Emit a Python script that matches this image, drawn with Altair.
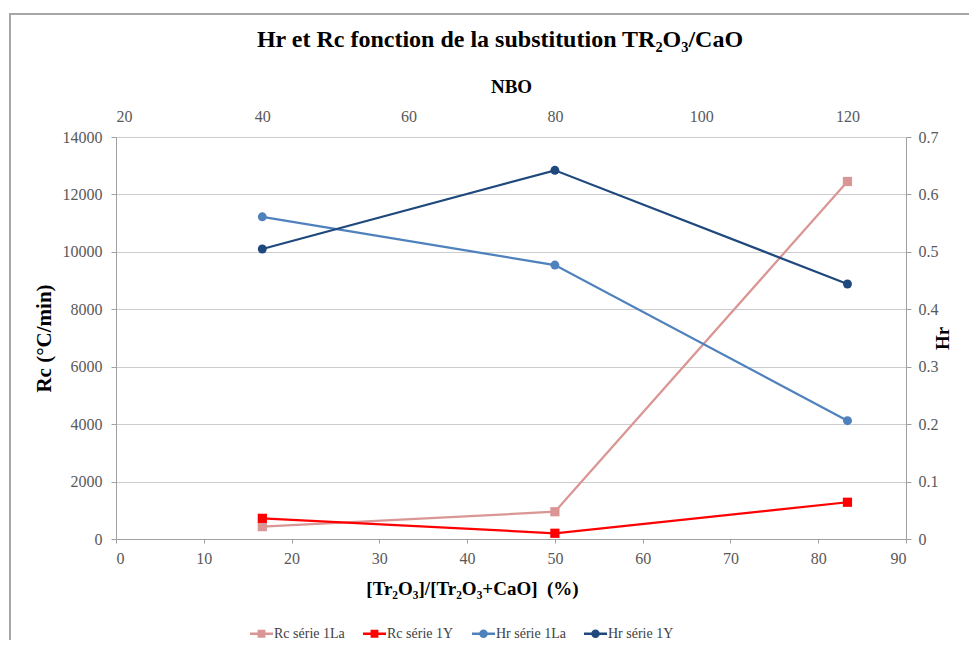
import altair as alt
import pandas as pd

# ---- data ----
series_names = ["Rc série 1La", "Rc série 1Y", "Hr série 1La", "Hr série 1Y"]
series_colors = ["#D99694", "#FF0000", "#4F81BD", "#1F497D"]

pct = [16.67, 50.0, 83.33]          # [Tr2O3]/[Tr2O3+CaO] (%)
nbo = [40, 80, 120]                 # NBO (top axis)
rc_la = [430, 950, 12450]
rc_y = [720, 200, 1280]
hr_la = [0.561, 0.477, 0.206]
hr_y = [0.505, 0.642, 0.444]

pct_ticks = [0, 10, 20, 30, 40, 50, 60, 70, 80, 90]
nbo_ticks = [20, 40, 60, 80, 100, 120]
rc_ticks = [0, 2000, 4000, 6000, 8000, 10000, 12000, 14000]
hr_ticks = [0, 0.1, 0.2, 0.3, 0.4, 0.5, 0.6, 0.7]
nbo_domain = [20, 128]

rc_df = pd.DataFrame({
    "pct": pct + pct,
    "Rc": rc_la + rc_y,
    "series": [series_names[0]] * 3 + [series_names[1]] * 3,
})
hr_df = pd.DataFrame({
    "NBO": nbo + nbo,
    "Hr": hr_la + hr_y,
    "series": [series_names[2]] * 3 + [series_names[3]] * 3,
})
legend_df = pd.DataFrame({"series": series_names})

FONT = "Liberation Serif"
LABEL_COLOR = "#595959"

legend = alt.Legend(
    orient="none", direction="horizontal", legendX=134, legendY=485,
    symbolSize=529, symbolStrokeWidth=0, symbolOpacity=1, labelFont=FONT,
    labelFontSize=14, labelColor="#404040", labelOffset=1, columnPadding=18,
    padding=0,
)
color_enc = alt.Color("series:N", title=None,
                      scale=alt.Scale(domain=series_names, range=series_colors),
                      legend=legend)

sq_path = "M-1,-0.11H1V0.11H-1Z M-0.34,-0.34H0.34V0.34H-0.34Z"
circ_path = ("M-1,-0.11H1V0.11H-1Z M0.37,0A0.37,0.37 0 1,1 -0.37,0"
             "A0.37,0.37 0 1,1 0.37,0Z")

axis_common = dict(labelFont=FONT, labelFontSize=16, labelColor=LABEL_COLOR,
                   titleFont=FONT, titleFontWeight="bold",
                   titleColor="#000000", domainColor="#A0A0A0",
                   tickColor="#A0A0A0")

x_pct = alt.X("pct:Q", scale=alt.Scale(domain=[0, 90], nice=False),
              axis=alt.Axis(values=pct_ticks, grid=False, tickSize=4,
                            labelPadding=7, titlePadding=13, titleFontSize=19,
                            titleX=356, titleAlign="center",
                            title="[Tr₂O₃]/[Tr₂O₃+CaO] \u00a0(%)", **axis_common))
y_rc = alt.Y("Rc:Q", scale=alt.Scale(domain=[0, 14000], nice=False),
             axis=alt.Axis(values=rc_ticks, format="d", grid=True,
                           gridColor="#CDCDCD", tickSize=5, labelPadding=9,
                           titlePadding=8, titleFontSize=21,
                           title="Rc (°C/min)", **axis_common))

rc_lines = alt.Chart(rc_df).mark_line(strokeWidth=2.25).encode(
    x=x_pct, y=y_rc, color=color_enc, detail="series:N")
rc_points = alt.Chart(rc_df).mark_point(shape="square", filled=True, size=85,
                                        opacity=1).encode(
    x=x_pct, y=y_rc, color=color_enc)

frame = alt.Chart(pd.DataFrame({"a": [0]})).mark_rect(
    fillOpacity=0, stroke="#A6A6A6", strokeWidth=2).encode(
    x=alt.value(-106), x2=alt.value(900), y=alt.value(-123), y2=alt.value(600))

# invisible layer that only feeds the legend (line + marker symbols)
legend_layer = alt.Chart(legend_df).mark_point(filled=True, opacity=0).encode(
    x=alt.value(300), y=alt.value(200), color=color_enc,
    shape=alt.Shape("series:N", title=None,
                    scale=alt.Scale(domain=series_names,
                                    range=[sq_path, sq_path, circ_path, circ_path]),
                    legend=legend))

x_nbo = alt.X("NBO:Q", scale=alt.Scale(domain=nbo_domain, nice=False, zero=False),
              axis=alt.Axis(orient="top", values=nbo_ticks, grid=False,
                            ticks=False, domain=False, labelPadding=13,
                            titlePadding=12, titleFontSize=19,
                            title="NBO", **axis_common))
y_hr = alt.Y("Hr:Q", scale=alt.Scale(domain=[0, 0.7], nice=False),
             axis=alt.Axis(orient="right", values=hr_ticks, format=".1~f",
                           grid=False, tickSize=5, labelPadding=7,
                           titlePadding=14, titleAngle=270, titleFontSize=19,
                           title="Hr", **axis_common))

hr_lines = alt.Chart(hr_df).mark_line(strokeWidth=2.25).encode(
    x=x_nbo, y=y_hr, color=color_enc, detail="series:N")
hr_points = alt.Chart(hr_df).mark_point(shape="circle", filled=True, size=80,
                                        opacity=1).encode(
    x=x_nbo, y=y_hr, color=color_enc)

rc_part = alt.layer(frame, rc_lines, rc_points, legend_layer)
hr_part = alt.layer(hr_lines, hr_points)

chart = alt.layer(rc_part, hr_part).resolve_scale(
    x="independent", y="independent", color="shared", shape="shared"
).properties(
    width=790, height=402,
    padding={"left": 108, "top": 129, "right": 63, "bottom": 101},
    autosize=alt.AutoSizeParams(type="none"),
    title=alt.TitleParams(text="Hr et Rc fonction de la substitution TR₂O₃/CaO",
                          font=FONT, fontSize=24, fontWeight="bold",
                          color="#000000", anchor="middle", offset=0, dx=-11,
                          dy=39),
).configure_view(strokeWidth=0)

chart.save("out.html", embed_options={"renderer": "svg", "actions": False})
